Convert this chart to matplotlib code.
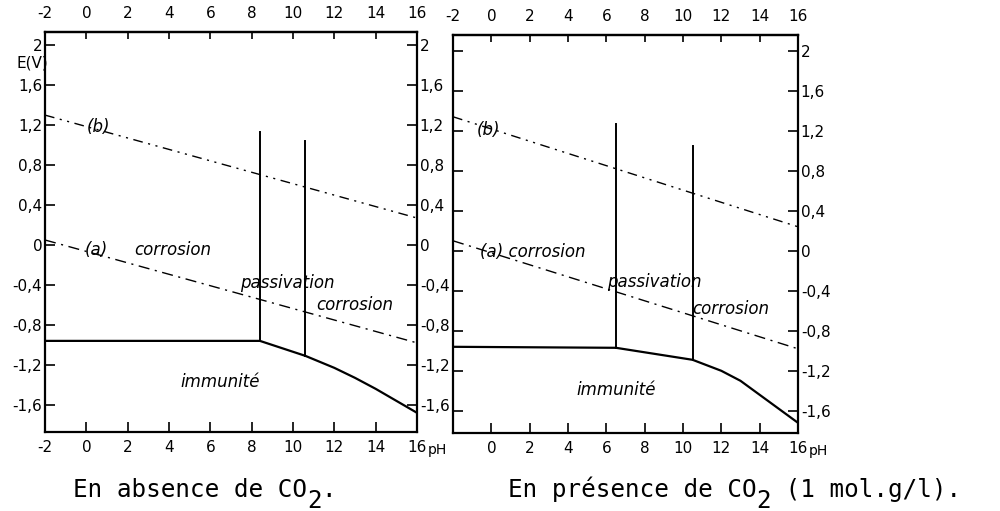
"""
Pourbaix-type diagrams E(V) vs pH, without and with CO2
"""
import matplotlib
matplotlib.use("Agg")
import matplotlib.pyplot as plt

# axis ticks
ph_ticks = [-2, 0, 2, 4, 6, 8, 10, 12, 14, 16]
e_ticks = [2, 1.6, 1.2, 0.8, 0.4, 0, -0.4, -0.8, -1.2, -1.6]
e_labels = ["2", "1,6", "1,2", "0,8", "0,4", "0", "-0,4", "-0,8", "-1,2", "-1,6"]

# without CO2
ph_solid_1 = [-2, 8.4, 10.6, 12, 13, 14, 15, 16]
e_solid_1 = [-0.96, -0.96, -1.11, -1.23, -1.33, -1.44, -1.56, -1.68]
vert_ph_1 = [8.4, 10.6]
vert_top_1 = [1.13, 1.04]
line_b_1 = ([-2, 16], [1.30, 0.27])
line_a_1 = ([-2, 16], [0.05, -0.98])

# with CO2 (1 mol.g/l)
ph_solid_2 = [-2, 6.5, 10.5, 12, 13, 14, 15, 16]
e_solid_2 = [-0.96, -0.97, -1.09, -1.20, -1.30, -1.44, -1.58, -1.72]
vert_ph_2 = [6.5, 10.5]
vert_top_2 = [1.27, 1.05]
line_b_2 = ([-2, 16], [1.34, 0.24])
line_a_2 = ([-2, 16], [0.10, -0.98])

fig = plt.figure(figsize=(10, 5.11), dpi=100)
ax1 = fig.add_axes([0.045, 0.155, 0.372, 0.782])
ax2 = fig.add_axes([0.453, 0.153, 0.345, 0.779])

tick_fs = 11
lab_fs = 12


def setup(ax, ylim, left_labels, bottom_skip_first):
    ax.set_xlim(-2, 16)
    ax.set_ylim(*ylim)
    for s in ax.spines.values():
        s.set_linewidth(1.6)
    ax.set_xticks(ph_ticks)
    bl = [str(t) for t in ph_ticks]
    if bottom_skip_first:
        bl[0] = ""
    ax.set_xticklabels(bl, fontsize=tick_fs)
    ax.set_yticks(e_ticks)
    ax.set_yticklabels(e_labels, fontsize=tick_fs)
    ax.tick_params(axis="x", direction="in", length=7, width=1.2, pad=6)
    ax.tick_params(axis="y", direction="in", length=7, width=1.2, pad=2,
                   left=True, right=True, labelleft=left_labels, labelright=True)
    top = ax.secondary_xaxis("top")
    top.set_xticks(ph_ticks)
    top.set_xticklabels([str(t) for t in ph_ticks], fontsize=tick_fs)
    top.tick_params(direction="in", length=5, width=1.2, pad=8)
    top.spines["top"].set_linewidth(1.6)
    ax.annotate("pH", xy=(1.0, -0.045), xycoords="axes fraction",
                xytext=(8, 0), textcoords="offset points",
                fontsize=tick_fs - 1, va="center", ha="left", annotation_clip=False)


def draw(ax, ph_s, e_s, vph, vtop, lb, la):
    ax.plot(ph_s, e_s, color="black", lw=1.6)
    for p, t in zip(vph, vtop):
        e0 = e_s[ph_s.index(p)]
        ax.plot([p, p], [e0, t], color="black", lw=1.4)
    ax.plot(*lb, color="black", lw=1.0, dashes=(7, 4, 1.5, 4, 1.5, 4))
    ax.plot(*la, color="black", lw=1.0, dashes=(8, 4, 1.5, 4))


setup(ax1, (-1.87, 2.13), True, False)
setup(ax2, (-1.82, 2.16), False, True)
draw(ax1, ph_solid_1, e_solid_1, vert_ph_1, vert_top_1, line_b_1, line_a_1)
draw(ax2, ph_solid_2, e_solid_2, vert_ph_2, vert_top_2, line_b_2, line_a_2)

it = dict(fontsize=lab_fs, style="italic", ha="center", va="center")
ax1.text(0.6, 1.18, "(b)", **it)
ax1.text(0.5, -0.05, "(a)", **it)
ax1.text(4.2, -0.05, "corrosion", **it)
ax1.text(9.7, -0.38, "passivation", **it)
ax1.text(13.0, -0.60, "corrosion", **it)
ax1.text(6.5, -1.37, "immunité", **it)

ax2.text(-0.15, 1.21, "(b)", **it)
ax2.text(2.15, -0.01, "(a) corrosion", **it)
ax2.text(8.5, -0.31, "passivation", **it)
ax2.text(12.5, -0.58, "corrosion", **it)
ax2.text(6.5, -1.39, "immunité", **it)

fig.text(0.032, 0.877, "E(V)", fontsize=tick_fs, ha="center", va="center")

# captions in a monospace font, with a full-size lowered "2"
cap_fs = 17.5
cw = 0.602 * cap_fs / 72 * 100 / 1000  # char width as figure fraction
cap = dict(fontsize=cap_fs, family="DejaVu Sans Mono", ha="left", va="baseline")
cap_y = 1 - 497 / 511
sub_y = cap_y - 11 / 511


def caption(x0, before, after):
    fig.text(x0, cap_y, before, **cap)
    fig.text(x0 + len(before) * cw, sub_y, "2", **cap)
    fig.text(x0 + (len(before) + 1) * cw, cap_y, after, **cap)


caption(0.073, "En absence de CO", ".")
caption(0.508, "En présence de CO", " (1 mol.g/l).")

fig.savefig("out.png", dpi=100)
